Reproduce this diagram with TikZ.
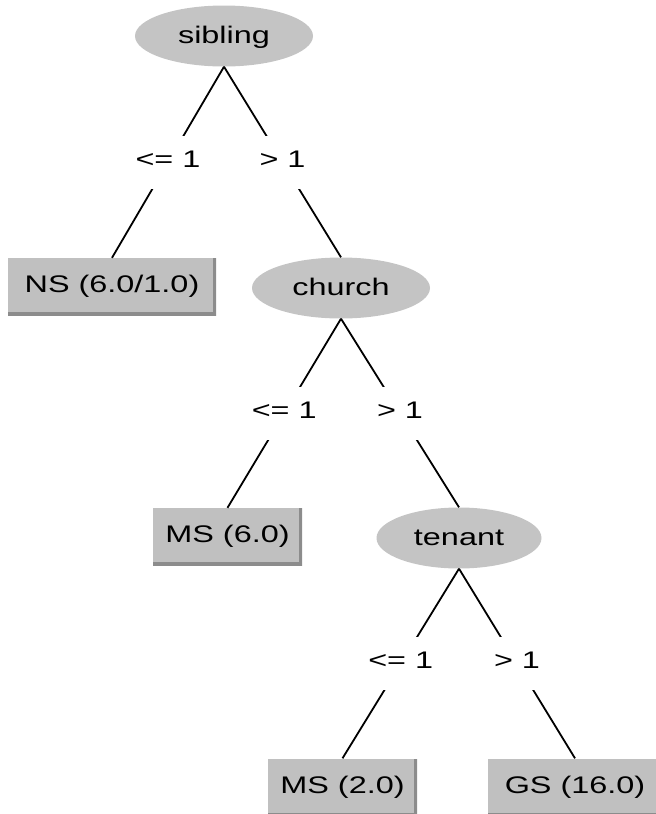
\documentclass[tikz,border=0pt]{standalone}
\usepackage{fontspec}
\setmainfont{Liberation Sans}[FakeStretch=1.35]
\usetikzlibrary{shapes.geometric}
\definecolor{nodegray}{RGB}{196,196,196}
\definecolor{boxgray}{RGB}{192,192,192}
\definecolor{rimgray}{RGB}{140,140,140}
\tikzset{
  attr/.style={ellipse, fill=nodegray, inner sep=0pt, minimum height=61pt,
    text height=1.45em, text depth=0pt},
  leaf/.style={rectangle, fill=boxgray, inner sep=0pt, minimum height=57pt,
    path picture={\draw[line width=6pt, rimgray]
      (path picture bounding box.south west) -- (path picture bounding box.south east)
      -- (path picture bounding box.north east);}},
  cond/.style={fill=white, inner xsep=2pt, inner ysep=0pt, minimum height=53pt,
    text height=1em, text depth=0pt},
  edge/.style={line width=1.8pt}
}

\begin{document}
\begin{tikzpicture}[x=1pt, y=-1pt, font=\fontsize{24}{28}\selectfont]
\useasboundingbox (0,0) rectangle (656,814);
\node[attr, minimum width=178pt] (sibling) at (224,36) {sibling};
\node[leaf, minimum width=208pt] (ns) at (112,286.5) {NS (6.0/1.0)};
\node[attr, minimum width=178pt] (church) at (341,288) {church};
\node[leaf, minimum width=149pt] (ms1) at (227.5,536.5) {MS (6.0)};
\node[attr, minimum width=165pt] (tenant) at (459,538) {tenant};
\node[leaf, minimum width=149pt] (ms2) at (342.5,787) {MS (2.0)};
\node[leaf, minimum width=174pt] (gs) at (575,787) {GS (16.0)};

\draw[edge] (sibling.south) -- node[cond] (c1) {<= 1} (ns.north);
\draw[edge] (sibling.south) -- node[cond] (c2) {> 1} (church.north);
\draw[edge] (church.south) -- node[cond] (c3) {<= 1} (ms1.north);
\draw[edge] (church.south) -- node[cond] (c4) {> 1} (tenant.north);
\draw[edge] (tenant.south) -- node[cond] (c5) {<= 1} (ms2.north);
\draw[edge] (tenant.south) -- node[cond] (c6) {> 1} (gs.north);
\end{tikzpicture}
\end{document}
